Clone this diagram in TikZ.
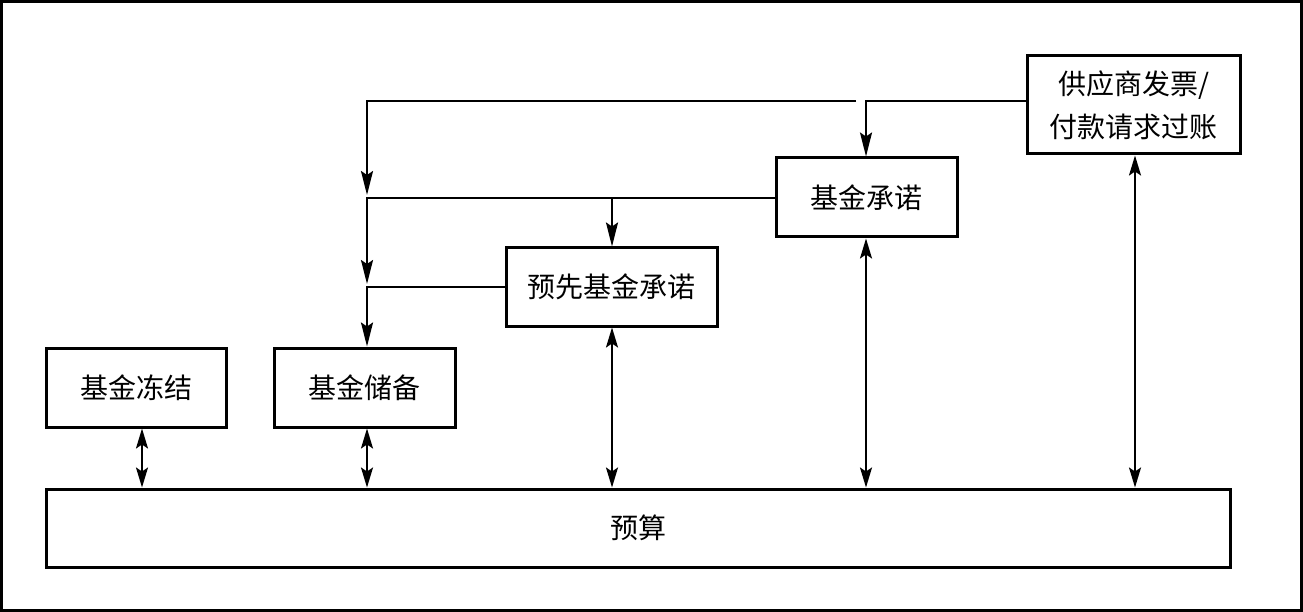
\documentclass[tikz,border=0pt]{standalone}
\usepackage{fontspec}
\newfontfamily\cjk{Noto Sans CJK SC}
\usetikzlibrary{arrows.meta}
\begin{document}
\begin{tikzpicture}[x=1pt,y=-1pt,
  box/.style={draw,line width=3pt,inner sep=0pt,align=center,
    font=\cjk\fontsize{28}{43}\selectfont},
  conn/.style={line width=2pt},
  arr/.style={conn,-{Stealth[length=24pt,width=12pt,inset=4pt]}},
  dbl/.style={conn,{Stealth[length=20pt,width=12pt,inset=4pt]}-{Stealth[length=20pt,width=12pt,inset=4pt]}}]
\draw[line width=3pt] (1.5,1.5) rectangle (1301.5,610.5);
\useasboundingbox (0,0) rectangle (1303,612);
\node[box,minimum width=213pt,minimum height=98pt] (sup) at (1133.5,105) {供应商发票/\\付款请求过账};
\node[box,minimum width=181pt,minimum height=79pt] (comm) at (866.5,197.5) {基金承诺};
\node[box,minimum width=211pt,minimum height=78pt] (pre) at (611.5,287) {预先基金承诺};
\node[box,minimum width=180pt,minimum height=79pt] (freeze) at (136,387.5) {基金冻结};
\node[box,minimum width=181pt,minimum height=79pt] (reserve) at (364.5,387.5) {基金储备};
\node[box,minimum width=1184pt,minimum height=78pt] (budget) at (638,528) {预算};
% columns
\coordinate (xa) at (142,0);
\coordinate (xb) at (367,0);
\coordinate (xc) at (612,0);
\coordinate (xd) at (866,0);
\coordinate (xe) at (1135,0);
% top line y=101
\coordinate (t1) at (856,101);
\coordinate (t2) at (367,101);
\coordinate (e1) at (367,195);
\coordinate (e2) at (367,284);
\draw[arr] (sup.west |- 0,101) -| (comm.north -| xd);
\draw[arr] (t1) -- (t2) -- (e1);
\draw[arr] (comm.west |- 0,198) -| (e2);
\draw[arr] (xc |- 0,198) -- (pre.north -| xc);
\draw[arr] (pre.west |- 0,287) -| (reserve.north -| xb);
% double arrows
\draw[dbl] (freeze.south -| xa) -- (budget.north -| xa);
\draw[dbl] (reserve.south -| xb) -- (budget.north -| xb);
\draw[dbl] (pre.south -| xc) -- (budget.north -| xc);
\draw[dbl] (comm.south -| xd) -- (budget.north -| xd);
\draw[dbl] (sup.south -| xe) -- (budget.north -| xe);
\end{tikzpicture}
\end{document}
